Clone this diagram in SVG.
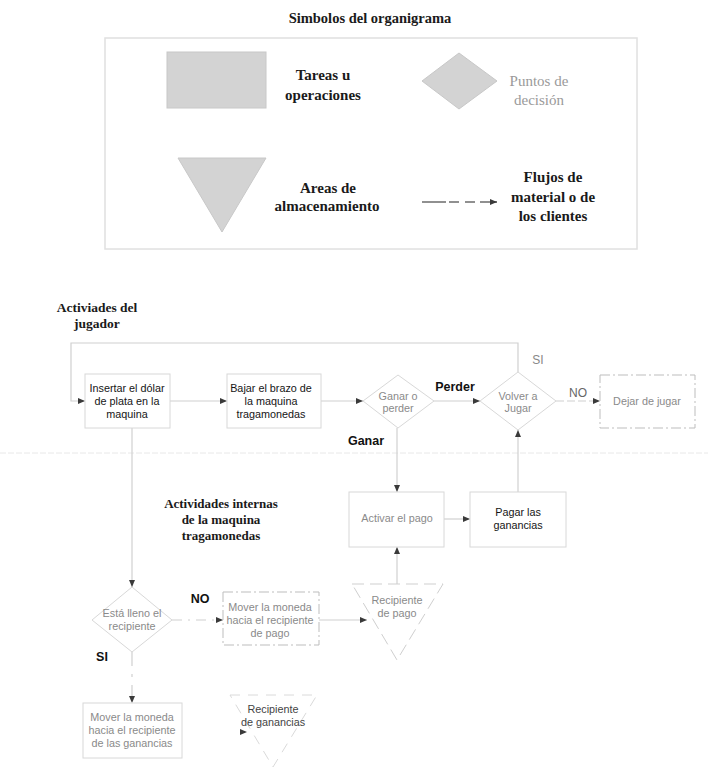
<svg xmlns="http://www.w3.org/2000/svg" width="708" height="767" viewBox="0 0 708 767">
<style>
.bg{fill:#ffffff}
.ser{font-family:"Liberation Serif","Times New Roman",serif;font-weight:bold;fill:#1a1a1a}
.sans{font-family:"Liberation Sans",Arial,sans-serif;font-size:10.8px}
.box{fill:#ffffff;stroke:#d8d8d8;stroke-width:1}
.dbox{fill:#ffffff;stroke:#bdbdbd;stroke-width:1;stroke-dasharray:10 3 2 3}
.leg{fill:#d3d3d3;stroke:#c8c8c8;stroke-width:1}
.conn{fill:none;stroke:#d0d0d0;stroke-width:1.2}
.dark{fill:#151515}
.grey{fill:#8a8a8a}
.lbl{font-family:"Liberation Sans",Arial,sans-serif;font-size:12.5px;font-weight:bold;fill:#111}
</style>
<defs>
<marker id="ah" markerWidth="7" markerHeight="6" refX="7" refY="3" orient="auto" markerUnits="userSpaceOnUse">
<path d="M0,0 L7,3 L0,6 z" fill="#3a3a3a"/>
</marker>
</defs>
<rect class="bg" x="0" y="0" width="708" height="767"/>

<!-- Legend -->
<g id="legend">
<text class="ser" x="370" y="23" font-size="14.5" text-anchor="middle">Simbolos del organigrama</text>
<rect x="105" y="38" width="532" height="211" fill="#ffffff" stroke="#e0e0e0" stroke-width="1.5"/>
<g id="legend-task">
<rect class="leg" x="167" y="52" width="99" height="56"/>
<text class="ser" x="323" y="80" font-size="15" text-anchor="middle">Tareas u</text>
<text class="ser" x="323" y="100" font-size="15" text-anchor="middle">operaciones</text>
</g>
<g id="legend-decision">
<polygon class="leg" points="422,81 459,53 497,81 459,109"/>
<text x="539" y="86" font-size="15" text-anchor="middle" font-family="Liberation Serif,Times New Roman,serif" fill="#9a9a9a">Puntos de</text>
<text x="539" y="105" font-size="15" text-anchor="middle" font-family="Liberation Serif,Times New Roman,serif" fill="#9a9a9a">decisión</text>
</g>
<g id="legend-storage">
<polygon class="leg" points="178,158 266,158 222,232"/>
<text class="ser" x="328" y="193" font-size="15" text-anchor="middle">Areas de</text>
<text class="ser" x="327" y="211" font-size="15" text-anchor="middle">almacenamiento</text>
</g>
<g id="legend-flow">
<path d="M422,202 H446 M449,202 H459 M465,202 H475 M480,202 H490" fill="none" stroke="#222" stroke-width="1.2"/>
<path d="M490,202 H497" fill="none" stroke="#222" stroke-width="1.2" marker-end="url(#ah)"/>
<text class="ser" x="553" y="182" font-size="15" text-anchor="middle">Flujos de</text>
<text class="ser" x="553" y="202" font-size="15" text-anchor="middle">material o de</text>
<text class="ser" x="553" y="221" font-size="15" text-anchor="middle">los clientes</text>
</g>
</g>

<!-- Section headings -->
<text class="ser" x="97" y="312" font-size="13.5" text-anchor="middle">Activiades del</text>
<text class="ser" x="97" y="328" font-size="13.5" text-anchor="middle">jugador</text>
<text class="ser" x="221" y="508" font-size="13" text-anchor="middle">Actividades internas</text>
<text class="ser" x="221" y="524" font-size="13" text-anchor="middle">de la maquina</text>
<text class="ser" x="221" y="540" font-size="13" text-anchor="middle">tragamonedas</text>

<!-- faint separator -->
<line x1="0" y1="453" x2="708" y2="453" stroke="#e8e8e8" stroke-width="1" stroke-dasharray="6 2"/>

<!-- Connectors -->
<g id="connectors">
<path class="conn" d="M518,372 V343 H71 V401 H85" marker-end="url(#ah)"/>
<path class="conn" d="M170,401 H227" marker-end="url(#ah)"/>
<path class="conn" d="M321,401 H363" marker-end="url(#ah)"/>
<path class="conn" d="M434,401 H480" marker-end="url(#ah)"/>
<path class="conn" d="M556,401 H600" stroke-dasharray="8 3" marker-end="url(#ah)"/>
<path class="conn" d="M397,428 V492" marker-end="url(#ah)"/>
<path class="conn" d="M444,519 H470" marker-end="url(#ah)"/>
<path class="conn" d="M518,492 V430" marker-end="url(#ah)"/>
<path class="conn" d="M132,428 V587" marker-end="url(#ah)"/>
<path class="conn" d="M172,620 H223" stroke-dasharray="10 6 2 6" marker-end="url(#ah)"/>
<path class="conn" d="M319,620 H367" marker-end="url(#ah)"/>
<path class="conn" d="M397,584 V547" marker-end="url(#ah)"/>
<path class="conn" d="M132,652 V703" stroke-dasharray="14 8 3 8" marker-end="url(#ah)"/>
<path d="M240,732 H247" fill="none" stroke="none" marker-end="url(#ah)"/>
</g>

<!-- Player activities -->
<g id="insertar">
<rect class="box" x="85" y="374" width="85" height="54"/>
<text class="sans dark" x="127" y="392" text-anchor="middle">Insertar el dólar</text>
<text class="sans dark" x="127" y="405" text-anchor="middle">de plata en la</text>
<text class="sans dark" x="127" y="418" text-anchor="middle">maquina</text>
</g>
<g id="bajar">
<rect class="box" x="227" y="374" width="94" height="54"/>
<text class="sans dark" x="271" y="392" text-anchor="middle">Bajar el brazo de</text>
<text class="sans dark" x="271" y="405" text-anchor="middle">la maquina</text>
<text class="sans dark" x="271" y="418" text-anchor="middle">tragamonedas</text>
</g>
<g id="ganar-perder">
<polygon class="box" points="363,401 398,375 434,401 398,428"/>
<text class="sans grey" x="398" y="400" text-anchor="middle">Ganar o</text>
<text class="sans grey" x="398" y="412" text-anchor="middle">perder</text>
</g>
<g id="volver">
<polygon class="box" points="480,401 518,372 556,401 518,430"/>
<text class="sans grey" x="518" y="400" text-anchor="middle">Volver a</text>
<text class="sans grey" x="518" y="412" text-anchor="middle">Jugar</text>
</g>
<g id="dejar">
<rect class="dbox" x="600" y="375" width="95" height="53"/>
<text class="sans grey" x="647" y="405" text-anchor="middle">Dejar de jugar</text>
</g>
<g id="activar">
<rect class="box" x="349" y="492" width="95" height="55"/>
<text class="sans grey" x="397" y="522" text-anchor="middle">Activar el pago</text>
</g>
<g id="pagar">
<rect class="box" x="470" y="492" width="96" height="55"/>
<text class="sans dark" x="518" y="516" text-anchor="middle">Pagar las</text>
<text class="sans dark" x="518" y="529" text-anchor="middle">ganancias</text>
</g>

<!-- Machine internal activities -->
<g id="lleno">
<polygon class="box" points="92,620 132,587 172,620 132,652"/>
<text class="sans grey" x="132" y="617" text-anchor="middle">Está lleno el</text>
<text class="sans grey" x="132" y="630" text-anchor="middle">recipiente</text>
</g>
<g id="mover-pago">
<rect class="dbox" x="223" y="592" width="96" height="53"/>
<text class="sans grey" x="270" y="611" text-anchor="middle">Mover la moneda</text>
<text class="sans grey" x="270" y="624" text-anchor="middle">hacia el recipiente</text>
<text class="sans grey" x="270" y="637" text-anchor="middle">de pago</text>
</g>
<g id="recipiente-pago">
<polygon points="352,584 443,584 397,660" fill="#ffffff" stroke="#cfcfcf" stroke-width="1" stroke-dasharray="12 6"/>
<text class="sans grey" x="397" y="604" text-anchor="middle">Recipiente</text>
<text class="sans grey" x="397" y="617" text-anchor="middle">de pago</text>
</g>
<g id="mover-ganancias">
<rect class="box" x="83" y="703" width="99" height="55"/>
<text class="sans grey" x="132" y="721" text-anchor="middle">Mover la moneda</text>
<text class="sans grey" x="132" y="734" text-anchor="middle">hacia el recipiente</text>
<text class="sans grey" x="132" y="747" text-anchor="middle">de las ganancias</text>
</g>
<g id="recipiente-ganancias">
<polygon points="230,695 317,695 273,767" fill="#ffffff" stroke="#dadada" stroke-width="1" stroke-dasharray="10 8"/>
<text class="sans" x="273" y="713" text-anchor="middle" fill="#444">Recipiente</text>
<text class="sans" x="273" y="726" text-anchor="middle" fill="#444">de ganancias</text>
</g>

<!-- Labels -->
<text class="lbl" x="455" y="391" text-anchor="middle">Perder</text>
<text class="lbl" x="366" y="445" text-anchor="middle">Ganar</text>
<text x="538" y="364" font-family="Liberation Sans,Arial,sans-serif" font-size="12" fill="#888" text-anchor="middle">SI</text>
<text x="578" y="397" font-family="Liberation Sans,Arial,sans-serif" font-size="12" fill="#666" text-anchor="middle">NO</text>
<text class="lbl" x="200" y="603" text-anchor="middle">NO</text>
<text class="lbl" x="102" y="661" text-anchor="middle">SI</text>
</svg>
